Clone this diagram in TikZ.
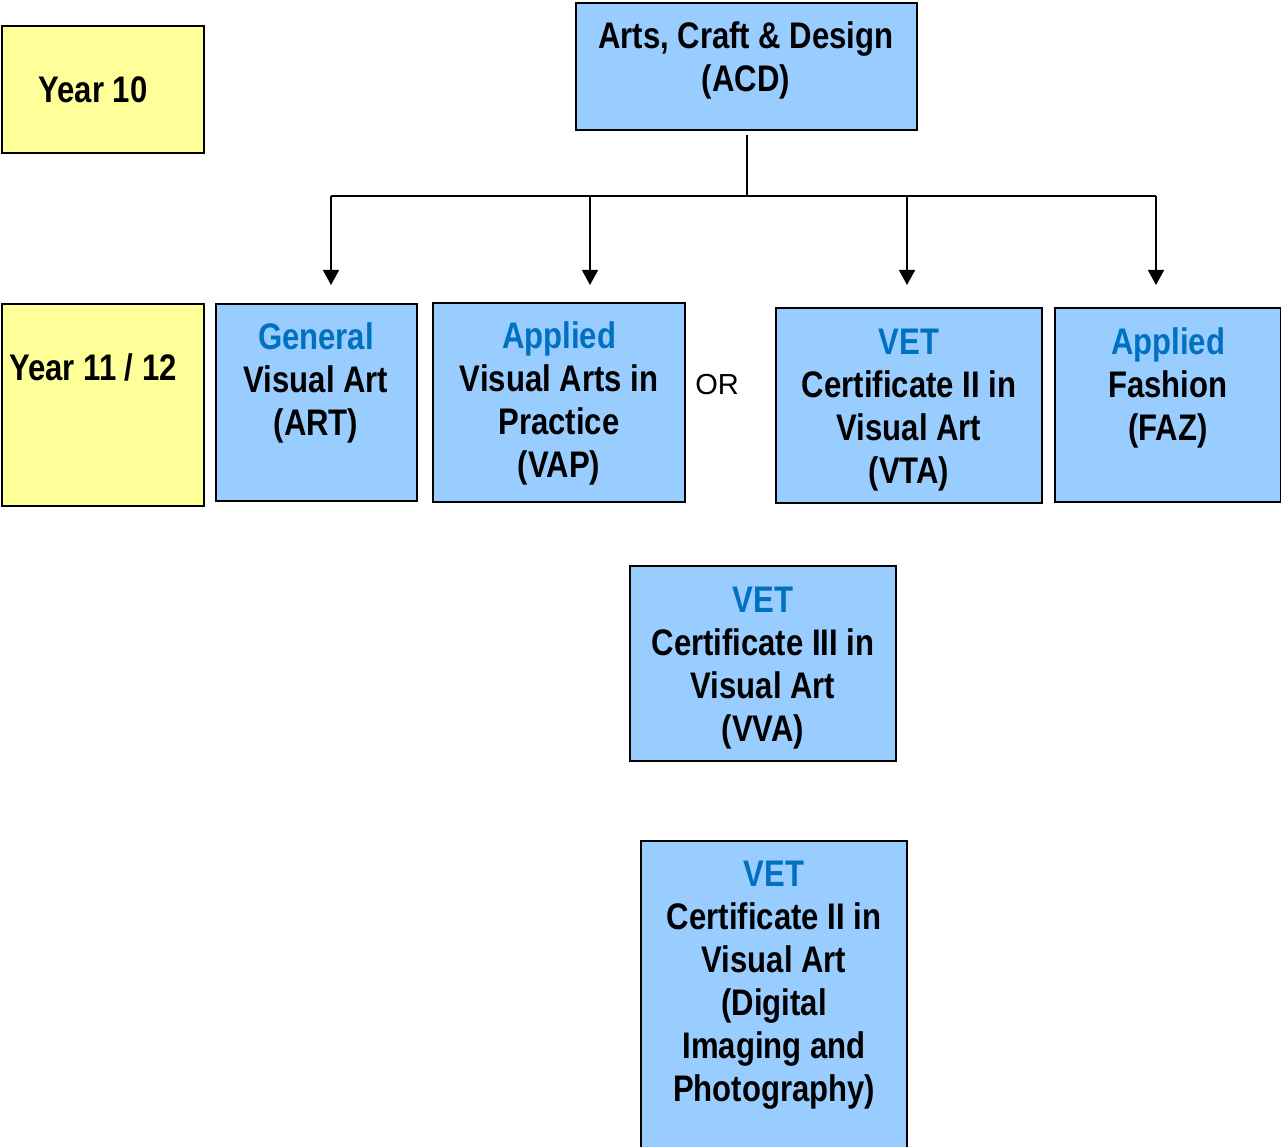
\documentclass[tikz,border=0pt]{standalone}
\usepackage{fontspec}
\setmainfont{Liberation Sans}
\newfontfamily\nar{Liberation Sans}[FakeStretch=0.84]
\usetikzlibrary{arrows.meta}
\definecolor{boxblue}{HTML}{99CCFF}
\definecolor{boxyellow}{HTML}{FFFF99}
\definecolor{headblue}{HTML}{0070C0}
\tikzset{
  boxbase/.style={draw=black, line width=1.6pt, rectangle, inner sep=0pt},
  bluebox/.style={boxbase, fill=boxblue},
  yellowbox/.style={boxbase, fill=boxyellow},
  txt/.style={font=\nar\bfseries\fontsize{37}{43}\selectfont, align=center, inner sep=0pt, anchor=base},
  conn/.style={line width=1.5pt, draw=black},
  arr/.style={conn, -{Triangle[width=16pt,length=15pt]}}
}
\newcommand{\hb}[1]{\textcolor{headblue}{#1}}
\begin{document}
\begin{tikzpicture}[x=1pt,y=-1pt]
\useasboundingbox (0,0) rectangle (1281,1147);
% boxes
\node[yellowbox, minimum width=202pt, minimum height=127pt] (y10) at (103,89.5) {};
\node[bluebox, minimum width=341pt, minimum height=127pt] (acd) at (746.5,66.5) {};
\node[yellowbox, minimum width=202pt, minimum height=202pt] (y11) at (103,405) {};
\node[bluebox, minimum width=201pt, minimum height=197pt] (art) at (316.5,402.5) {};
\node[bluebox, minimum width=252pt, minimum height=199pt] (vap) at (559,402.5) {};
\node[bluebox, minimum width=266pt, minimum height=195pt] (vta) at (909,405.5) {};
\node[bluebox, minimum width=226pt, minimum height=194pt] (faz) at (1168,405) {};
\node[bluebox, minimum width=266pt, minimum height=195pt] (vva) at (763,663.5) {};
\node[bluebox, minimum width=266pt, minimum height=309pt] (dig) at (774,995.5) {};
% texts (anchor = baseline of last line)
\node[txt] (y10t) at (93,103) {Year 10};
\node[txt] (acdt) at (746,92) {Arts, Craft \& Design\\(ACD)};
\node[txt] (y11t) at (93,380) {Year 11 / 12};
\node[txt] (artt) at (316,435) {\hb{General}\\Visual Art\\(ART)};
\node[txt] (vapt) at (559,477) {\hb{Applied}\\Visual Arts in\\Practice\\(VAP)};
\node[font=\fontsize{29}{34}\selectfont, inner sep=0pt, anchor=base] (or) at (717,394) {OR};
\node[txt] (vtat) at (909,483) {\hb{VET}\\Certificate II in\\Visual Art\\(VTA)};
\node[txt] (fazt) at (1168,440) {\hb{Applied}\\Fashion\\(FAZ)};
\node[txt] (vvat) at (763,741) {\hb{VET}\\Certificate III in\\Visual Art\\(VVA)};
\node[txt] (digt) at (774,1101) {\hb{VET}\\Certificate II in\\Visual Art\\(Digital\\Imaging and\\Photography)};
% connectors
\coordinate (top) at (747,135);
\coordinate (j) at (747,196);
\coordinate (ja) at (331,196);
\coordinate (jb) at (590,196);
\coordinate (jc) at (907,196);
\coordinate (jd) at (1156,196);
\coordinate (ea) at (331,285);
\coordinate (eb) at (590,285);
\coordinate (ec) at (907,285);
\coordinate (ed) at (1156,285);
\draw[conn] (top) -- (j);
\draw[conn] (ja) -- (jd);
\draw[arr] (ja) -- (ea);
\draw[arr] (jb) -- (eb);
\draw[arr] (jc) -- (ec);
\draw[arr] (jd) -- (ed);
\end{tikzpicture}
\end{document}
